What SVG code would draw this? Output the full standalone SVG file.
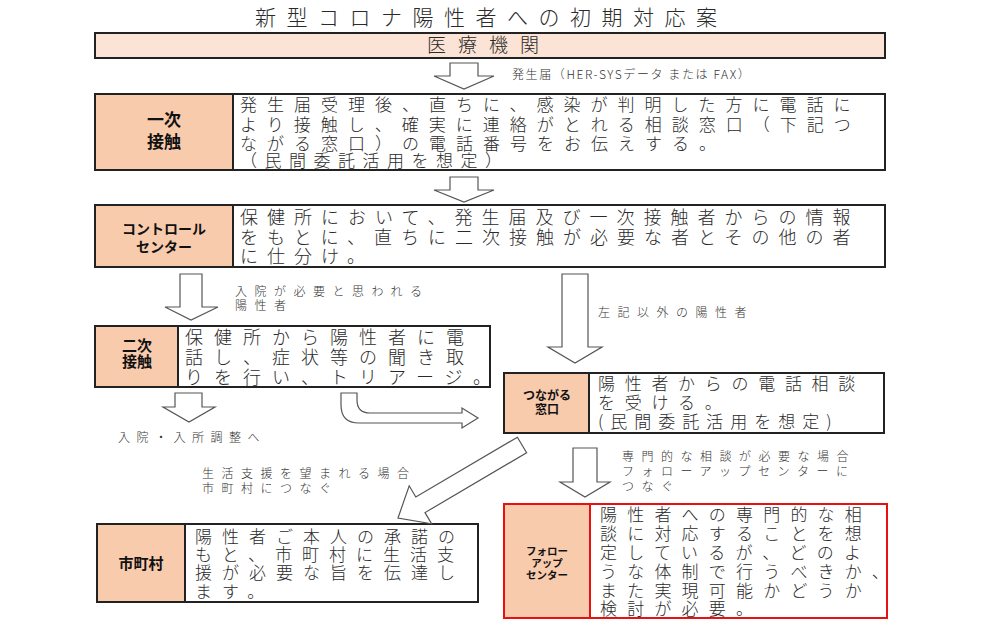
<svg xmlns="http://www.w3.org/2000/svg" width="1000" height="623" viewBox="0 0 1000 623">
<style>
text{font-family:"Noto Sans CJK JP","Noto Sans",sans-serif;fill:#2a2a2a}
.title{font-size:21px;letter-spacing:10.5px;font-weight:300}
.body{font-size:17px;letter-spacing:10px;font-weight:300}
.lbl{font-size:15px;font-weight:bold;fill:#111;text-anchor:middle}
.small{font-size:12px;letter-spacing:7.5px;fill:#333;font-weight:300}
.box{fill:#fff;stroke:#222;stroke-width:2}
.cell{fill:#f8cbad;stroke:#222;stroke-width:2}
.red .box,.red .cell{stroke:#e81010}
.arr{fill:#fff;stroke:#555;stroke-width:1.2;stroke-linejoin:miter}
</style>
<rect width="1000" height="623" fill="#fff"/>
<text class="title" x="255" y="25">新型コロナ陽性者への初期対応案</text>

<g id="iryo">
<rect x="95" y="33" width="790" height="25" fill="#fbe4d5" stroke="#222" stroke-width="2"/>
<text x="427" y="52" style="font-size:19px;letter-spacing:12px;font-weight:300">医療機関</text>
</g>

<g id="ichiji">
<rect class="box" x="95" y="94" width="790" height="76"/>
<rect class="cell" x="95" y="94" width="138" height="76"/>
<text class="lbl" x="164" y="126" style="font-size:17px">一次</text>
<text class="lbl" x="164" y="148" style="font-size:17px">接触</text>
<text class="body" x="240" y="111">発生届受理後、直ちに、感染が判明した方に電話に</text>
<text class="body" x="240" y="131">より接触し、確実に連絡がとれる相談窓口（下記つ</text>
<text class="body" x="240" y="150">ながる窓口）の電話番号をお伝えする。</text>
<text class="body" x="240" y="167" style="letter-spacing:7.5px">（民間委託活用を想定）</text>
</g>

<g id="control">
<rect class="box" x="95" y="205" width="790" height="62"/>
<rect class="cell" x="95" y="205" width="138" height="62"/>
<text class="lbl" x="164" y="234" style="font-size:14px">コントロール</text>
<text class="lbl" x="164" y="252" style="font-size:14px">センター</text>
<text class="body" x="240" y="224" style="font-size:18px;letter-spacing:9px">保健所において、発生届及び一次接触者からの情報</text>
<text class="body" x="240" y="244" style="font-size:18px;letter-spacing:9px">をもとに、直ちに二次接触が必要な者とその他の者</text>
<text class="body" x="240" y="263" style="font-size:18px;letter-spacing:9px">に仕分け。</text>
</g>

<g id="niji">
<rect class="box" x="95" y="326" width="395" height="61"/>
<rect class="cell" x="95" y="326" width="83" height="61"/>
<text class="lbl" x="137" y="351">二次</text>
<text class="lbl" x="137" y="367">接触</text>
<text class="body" x="185" y="344" style="font-size:18px;letter-spacing:11px">保健所から陽性者に電</text>
<text class="body" x="185" y="364" style="font-size:18px;letter-spacing:11px">話し、症状等の聞き取</text>
<text class="body" x="185" y="384" style="font-size:18px;letter-spacing:11px">りを行い、トリアージ。</text>
</g>

<g id="tsunagaru">
<rect class="box" x="504" y="373" width="380" height="60"/>
<rect class="cell" x="504" y="373" width="85" height="60"/>
<text class="lbl" x="547" y="400" style="font-size:12px">つながる</text>
<text class="lbl" x="547" y="414" style="font-size:12px">窓口</text>
<text class="body" x="598" y="390" style="letter-spacing:9.7px">陽性者からの電話相談</text>
<text class="body" x="598" y="409" style="letter-spacing:9.7px">を受ける。</text>
<text class="body" x="598" y="428" style="letter-spacing:7px">(民間委託活用を想定)</text>
</g>

<g id="shichoson">
<rect class="box" x="97" y="524" width="381" height="78"/>
<rect class="cell" x="97" y="524" width="88" height="78"/>
<text class="lbl" x="141" y="569">市町村</text>
<text class="body" x="195" y="543">陽性者ご本人の承諾の</text>
<text class="body" x="195" y="561">もと、市町村に生活支</text>
<text class="body" x="195" y="579">援が必要な旨を伝達し</text>
<text class="body" x="195" y="598">ます。</text>
</g>

<g id="followup" class="red">
<rect class="box" x="504" y="504" width="383" height="114"/>
<rect class="cell" x="504" y="504" width="86" height="114"/>
<text class="lbl" x="547" y="555" style="font-size:10.5px">フォロー</text>
<text class="lbl" x="547" y="567" style="font-size:10.5px">アップ</text>
<text class="lbl" x="547" y="579" style="font-size:10.5px">センター</text>
<text class="body" x="600" y="521" style="letter-spacing:10.2px">陽性者への専門的な相</text>
<text class="body" x="600" y="540" style="letter-spacing:10.2px">談に対応することを想</text>
<text class="body" x="600" y="559" style="letter-spacing:10.2px">定しているが、どのよ</text>
<text class="body" x="600" y="578" style="letter-spacing:10.2px">うな体制で行うべきか、</text>
<text class="body" x="600" y="597" style="letter-spacing:10.2px">また実現可能かどうか</text>
<text class="body" x="600" y="615" style="letter-spacing:10.2px">検討が必要。</text>
</g>

<g id="connectors">
<polygon class="arr" points="450,63 478,63 478,76 494,76 464,89 434,76 450,76"/>
<polygon class="arr" points="450,177 478,177 478,190 494,190 464,202 434,190 450,190"/>
<polygon class="arr" points="180,274 202,274 202,307 218,307 191,320 165,307 180,307"/>
<polygon class="arr" points="562,274 588,274 588,347 602,347 575,363 548,347 562,347"/>
<polygon class="arr" points="175,393 202,393 202,407 215,407 189,422 163,407 175,407"/>
<path class="arr" d="M341,393 L341,405 Q341,423 359,423 L462,423 L462,428 L478,418 L462,408 L462,413 L370,413 Q357,413 357,400 L357,393 Z"/>
<polygon class="arr" points="517.4,437.2 415.8,497 409.2,485.8 398,518 431.6,523.8 425,512.6 526.6,452.8"/>
<polygon class="arr" points="573,448 597,448 597,482 610,482 585,497 560,482 573,482"/>
</g>

<g id="labels">
<text class="small" x="512" y="79" style="letter-spacing:1.6px">発生届（HER-SYSデータ または FAX）</text>
<text class="small" x="235" y="296">入院が必要と思われる</text>
<text class="small" x="235" y="310">陽性者</text>
<text class="small" x="598" y="317">左記以外の陽性者</text>
<text class="small" x="118" y="442" style="letter-spacing:6.5px">入院・入所調整へ</text>
<text class="small" x="202" y="478">生活支援を望まれる場合</text>
<text class="small" x="202" y="493">市町村につなぐ</text>
<text class="small" x="622" y="461">専門的な相談が必要な場合</text>
<text class="small" x="622" y="476">フォローアップセンターに</text>
<text class="small" x="622" y="491">つなぐ</text>
</g>
</svg>
